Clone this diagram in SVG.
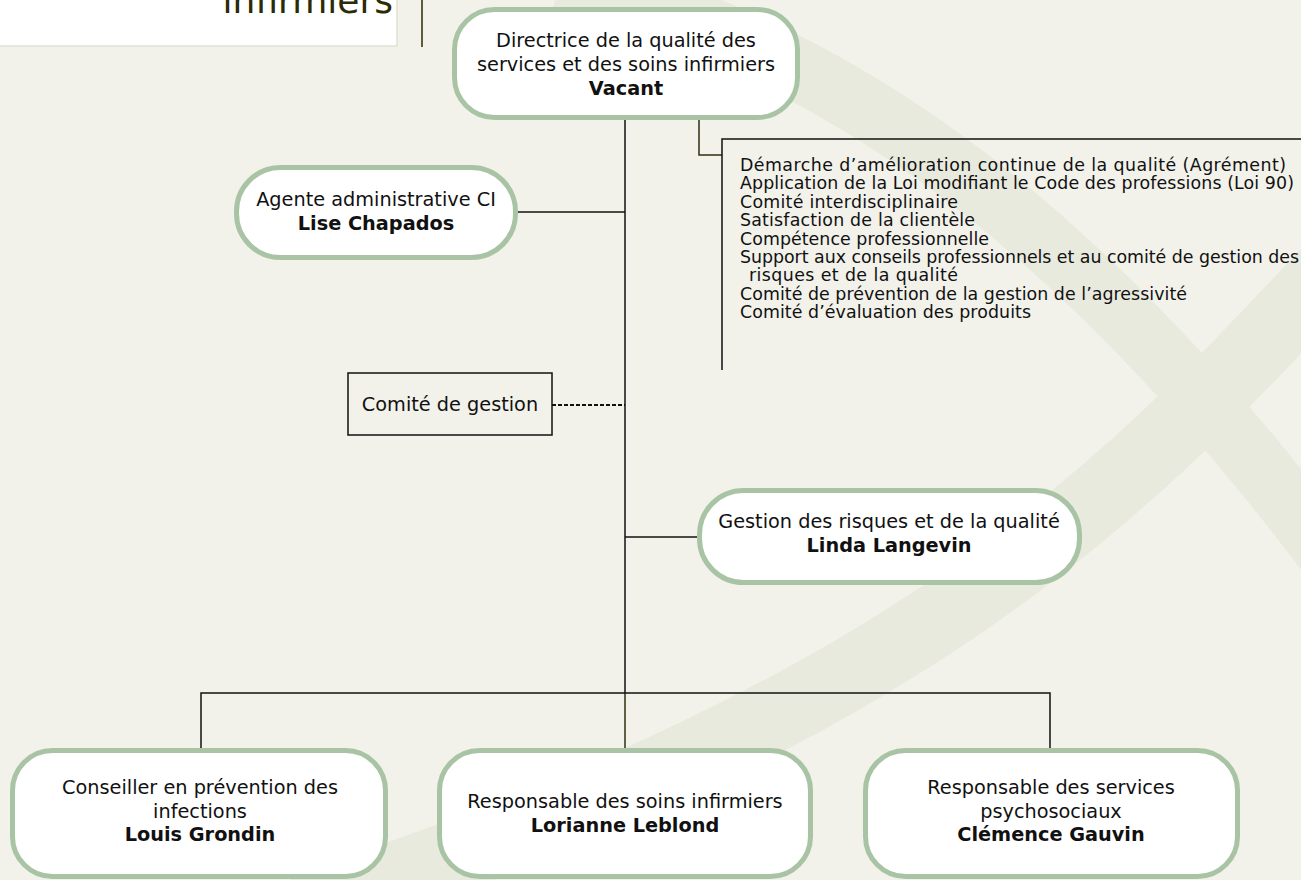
<svg xmlns="http://www.w3.org/2000/svg" width="1301" height="880" viewBox="0 0 1301 880">
  <style>
    .node { fill: #ffffff; stroke: #a9c4a5; stroke-width: 5; }
    .t { font-family: "DejaVu Sans", "Liberation Sans", sans-serif; font-size: 19.3px; fill: #111111; text-anchor: middle; }
    .b { font-weight: bold; }
    .list { font-family: "DejaVu Sans", "Liberation Sans", sans-serif; font-size: 17.4px; fill: #111111; }
    .ln { fill: none; stroke: #111111; stroke-width: 1.5; }
    .olive { fill: none; stroke: #2e2f10; stroke-width: 1.5; }
    .band { fill: none; stroke: #e9eade; }
  </style>
  <rect x="0" y="0" width="1301" height="880" fill="#f2f2eb"/>
  <g id="background">
    <path class="band" stroke-width="62" d="M 560 -20 C 800 40, 1050 180, 1340 570"/>
    <path class="band" stroke-width="72" d="M 1340 260 C 1150 460, 950 700, 300 910"/>
  </g>
  <g id="header">
    <rect x="-2" y="-2" width="399" height="48" fill="#ffffff" stroke="#dfe1d3" stroke-width="1.5"/>
    <text x="393" y="13" font-family="DejaVu Sans, sans-serif" font-size="36" fill="#2b2b05" text-anchor="end">infirmiers</text>
    <line x1="422" y1="0" x2="422" y2="47" stroke="#2b2b05" stroke-width="1.5"/>
  </g>
  <g id="connectors">
    <path class="ln" d="M625 120 V693"/>
    <path class="olive" d="M625 693 V748"/>
    <path class="ln" d="M518 212 H625"/>
    <path class="ln" d="M625 537 H697"/>
    <path class="ln" d="M201 748 V693 H1050 V748"/>
    <path d="M552 405 H625" fill="none" stroke="#111111" stroke-width="2" stroke-dasharray="4 2"/>
    <path class="olive" d="M699 120 V155 H722"/>
  </g>
  <g id="director">
    <rect class="node" x="454.5" y="9.5" width="343" height="108" rx="40"/>
    <text class="t" x="626" y="47">Directrice de la qualité des</text>
    <text class="t" x="626" y="71">services et des soins infirmiers</text>
    <text class="t b" x="626" y="95">Vacant</text>
  </g>
  <g id="mandats">
    <path class="ln" d="M1302 139 H722 V370"/>
    <text class="list" x="740" y="171" textLength="546" lengthAdjust="spacing">Démarche d’amélioration continue de la qualité (Agrément)</text>
    <text class="list" x="740" y="189.4" textLength="554" lengthAdjust="spacing">Application de la Loi modifiant le Code des professions (Loi 90)</text>
    <text class="list" x="740" y="207.8" textLength="218" lengthAdjust="spacing">Comité interdisciplinaire</text>
    <text class="list" x="740" y="226.2" textLength="235" lengthAdjust="spacing">Satisfaction de la clientèle</text>
    <text class="list" x="740" y="244.6" textLength="249" lengthAdjust="spacing">Compétence professionnelle</text>
    <text class="list" x="740" y="263" textLength="559" lengthAdjust="spacing">Support aux conseils professionnels et au comité de gestion des</text>
    <text class="list" x="749" y="281.4" textLength="209" lengthAdjust="spacing">risques et de la qualité</text>
    <text class="list" x="740" y="299.8" textLength="447" lengthAdjust="spacing">Comité de prévention de la gestion de l’agressivité</text>
    <text class="list" x="740" y="318.2" textLength="291" lengthAdjust="spacing">Comité d’évaluation des produits</text>
  </g>
  <g id="agente">
    <rect class="node" x="236.5" y="167.5" width="279" height="90" rx="44"/>
    <text class="t" x="376" y="206">Agente administrative CI</text>
    <text class="t b" x="376" y="230">Lise Chapados</text>
  </g>
  <g id="comite">
    <rect x="348" y="373" width="204" height="62" fill="none" stroke="#111111" stroke-width="1.5"/>
    <text class="t" x="450" y="411">Comité de gestion</text>
  </g>
  <g id="gestion">
    <rect class="node" x="699.5" y="490.5" width="380" height="92" rx="44"/>
    <text class="t" x="889" y="528">Gestion des risques et de la qualité</text>
    <text class="t b" x="889" y="552">Linda Langevin</text>
  </g>
  <g id="louis">
    <rect class="node" x="12.5" y="750.5" width="373" height="126" rx="40"/>
    <text class="t" x="200" y="794">Conseiller en prévention des</text>
    <text class="t" x="200" y="818">infections</text>
    <text class="t b" x="200" y="841">Louis Grondin</text>
  </g>
  <g id="lorianne">
    <rect class="node" x="439.5" y="750.5" width="371" height="126" rx="40"/>
    <text class="t" x="625" y="808">Responsable des soins infirmiers</text>
    <text class="t b" x="625" y="832">Lorianne Leblond</text>
  </g>
  <g id="clemence">
    <rect class="node" x="865.5" y="750.5" width="372" height="126" rx="40"/>
    <text class="t" x="1051" y="794">Responsable des services</text>
    <text class="t" x="1051" y="818">psychosociaux</text>
    <text class="t b" x="1051" y="841">Clémence Gauvin</text>
  </g>
</svg>
